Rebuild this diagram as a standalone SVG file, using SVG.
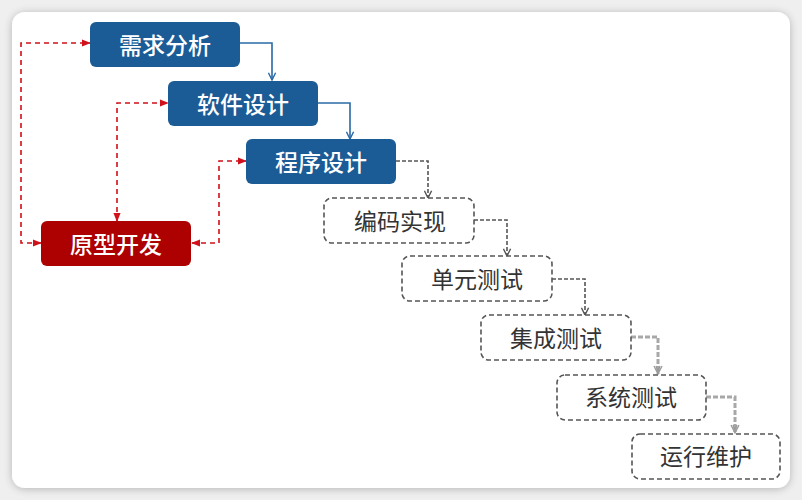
<svg xmlns="http://www.w3.org/2000/svg" width="802" height="500" viewBox="0 0 802 500">
<defs>
<filter id="sh" x="-5%" y="-5%" width="110%" height="110%">
<feGaussianBlur in="SourceAlpha" stdDeviation="4"/>
<feOffset dx="0" dy="1"/>
<feComponentTransfer><feFuncA type="linear" slope="0.25"/></feComponentTransfer>
<feMerge><feMergeNode/><feMergeNode in="SourceGraphic"/></feMerge>
</filter>
<marker id="ab" viewBox="0 0 10 10" refX="9" refY="5" markerWidth="9" markerHeight="9" orient="auto" markerUnits="userSpaceOnUse">
<path d="M1,1 L9,5 L1,9" fill="none" stroke="#2a6aa6" stroke-width="1.6"/>
</marker>
<marker id="ar" viewBox="0 0 10 10" refX="9" refY="5" markerWidth="9" markerHeight="9" orient="auto-start-reverse" markerUnits="userSpaceOnUse">
<path d="M0,1 L10,5 L0,9 Z" fill="#d0101a"/>
</marker>
<marker id="ag" viewBox="0 0 10 10" refX="9" refY="5" markerWidth="9" markerHeight="9" orient="auto" markerUnits="userSpaceOnUse">
<path d="M1,1 L9,5 L1,9" fill="none" stroke="#555" stroke-width="1.6"/>
</marker>
<marker id="al" viewBox="0 0 10 10" refX="9" refY="5" markerWidth="10" markerHeight="10" orient="auto" markerUnits="userSpaceOnUse">
<path d="M1,1 L9,5 L1,9 M1,3 L6,5 L1,7" fill="none" stroke="#999" stroke-width="1.3"/>
</marker>
</defs>
<style>
.solid rect{fill:#1b5b96;}
.proto rect{fill:#ad0000;}
.solid text,.proto text{fill:#fff;font-family:"Noto Sans CJK SC","Noto Sans",sans-serif;font-size:23px;font-weight:500;text-anchor:middle;dominant-baseline:central;}
.dash rect{fill:#fff;stroke:#555;stroke-width:1.6;stroke-dasharray:5 3;}
.dash text{fill:#333;font-family:"Noto Sans CJK SC","Noto Sans",sans-serif;font-size:23px;text-anchor:middle;dominant-baseline:central;}
.cb{fill:none;stroke:#2a6aa6;stroke-width:1.6;}
.cr{fill:none;stroke:#d0101a;stroke-width:1.6;stroke-dasharray:5 4;}
.cg{fill:none;stroke:#555;stroke-width:1.6;stroke-dasharray:4 2;}
.cl{fill:none;stroke:#a8a8a8;stroke-width:3;stroke-dasharray:5 2;}
</style>
<rect width="802" height="500" fill="#efefef"/>
<rect x="12" y="12" width="778" height="476" rx="13" fill="#fff" filter="url(#sh)"/>
<g id="connectors">
<path class="cb" d="M240,43 H272 V80" marker-end="url(#ab)"/>
<path class="cb" d="M318,103 H350 V139" marker-end="url(#ab)"/>
<path class="cg" d="M396,161 H428 V198" marker-end="url(#ag)"/>
<path class="cg" d="M474,220 H507 V256" marker-end="url(#ag)"/>
<path class="cg" d="M552,279 H585 V315" marker-end="url(#ag)"/>
<path class="cl" d="M631,337 H658 V374"/>
<path d="M658,366 V374" stroke="none" marker-end="url(#al)"/>
<path class="cl" d="M706,397 H735 V432"/>
<path d="M735,424 V433" stroke="none" marker-end="url(#al)"/>
<path class="cr" d="M41,243 H21 V43 H90" marker-start="url(#ar)" marker-end="url(#ar)"/>
<path class="cr" d="M117,221 V103 H168" marker-start="url(#ar)" marker-end="url(#ar)"/>
<path class="cr" d="M192,243 H219 V161 H246" marker-start="url(#ar)" marker-end="url(#ar)"/>
</g>
<g id="n1" class="solid"><rect x="90" y="22" width="150" height="45" rx="6"/><text x="165" y="44">需求分析</text></g>
<g id="n2" class="solid"><rect x="168" y="81" width="150" height="45" rx="6"/><text x="243" y="103">软件设计</text></g>
<g id="n3" class="solid"><rect x="246" y="139" width="150" height="45" rx="6"/><text x="321" y="161">程序设计</text></g>
<g id="n0" class="proto"><rect x="41" y="221" width="150" height="45" rx="6"/><text x="116" y="243">原型开发</text></g>
<g id="n4" class="dash"><rect x="324" y="198" width="150" height="45" rx="8"/><text x="400" y="220">编码实现</text></g>
<g id="n5" class="dash"><rect x="402" y="256" width="150" height="45" rx="8"/><text x="477" y="278">单元测试</text></g>
<g id="n6" class="dash"><rect x="481" y="315" width="150" height="45" rx="8"/><text x="556" y="337">集成测试</text></g>
<g id="n7" class="dash"><rect x="557" y="375" width="149" height="45" rx="8"/><text x="631" y="396">系统测试</text></g>
<g id="n8" class="dash"><rect x="632" y="434" width="148" height="45" rx="8"/><text x="706" y="455">运行维护</text></g>
</svg>
